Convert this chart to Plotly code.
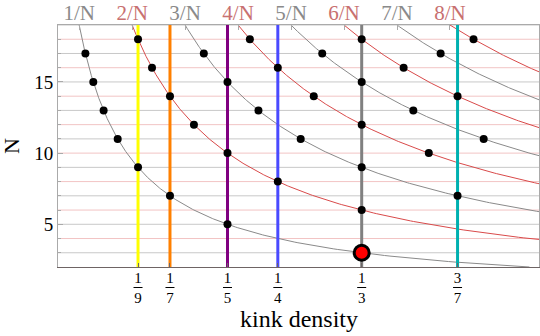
import numpy as np
import plotly.graph_objects as go

# --- data ---
numerators = [1, 2, 3, 4, 5, 6, 7, 8]
top_labels = ["1/N", "2/N", "3/N", "4/N", "5/N", "6/N", "7/N", "8/N"]
levels = list(range(3, 20))  # horizontal rules at every integer N

# vertical marker lines (kink densities)
marks = [1/9, 1/7, 1/5, 1/4, 1/3, 3/7]
mark_num = ["1", "1", "1", "1", "1", "3"]
mark_den = ["9", "7", "5", "4", "3", "7"]
mark_colors = ["#ffff00", "#ff8000", "#800080", "#4a4aff", "#808080", "#00b0b0"]

# black dots: N values on each k/N curve
dot_N = {
    1: [5, 7, 9, 11, 13, 15, 17],
    2: [6, 8, 10, 12, 14, 16, 18],
    3: [7, 9, 11, 13, 15, 17],
    4: [10, 12, 14, 16, 18],
    5: [11, 13, 15, 17],
    6: [14, 16, 18],
    7: [17],
    8: [18],
}
red_k, red_N = 1, 3

GRAY = "#8a8a8a"
RED = "#d94a4a"
LABEL_RED = "#c87070"
FONT = "Liberation Serif"

x_range = [0.0316, 0.5095]
y_range = [2, 19]

fig = go.Figure()

# horizontal rules
for n in levels:
    fig.add_shape(type="line", xref="paper", x0=0, x1=1, yref="y", y0=n, y1=n,
                  line=dict(color="#c8c8c8" if n % 2 else "#f2c4c4", width=1),
                  layer="below")

# k/N curves
Ns = np.linspace(2, 19, 400)
for k in numerators:
    fig.add_trace(go.Scatter(x=k / Ns, y=Ns, mode="lines",
                             line=dict(color=GRAY if k % 2 else RED, width=1),
                             hoverinfo="skip", showlegend=False))

# vertical marker lines
for xv, col in zip(marks, mark_colors):
    fig.add_trace(go.Scatter(x=[xv, xv], y=y_range, mode="lines",
                             line=dict(color=col, width=3),
                             hoverinfo="skip", showlegend=False))

# black dots
dx, dy = [], []
for k, ns in dot_N.items():
    for n in ns:
        dx.append(k / n)
        dy.append(n)
fig.add_trace(go.Scatter(x=dx, y=dy, mode="markers",
                         marker=dict(color="black", size=8),
                         showlegend=False))

# big red dot
fig.add_trace(go.Scatter(x=[red_k / red_N], y=[red_N], mode="markers",
                         marker=dict(color="#ff0000", size=15,
                                     line=dict(color="black", width=3)),
                         showlegend=False))

# invisible trace for the top axis
fig.add_trace(go.Scatter(x=[x_range[0]], y=[y_range[0]], xaxis="x2", mode="markers",
                         marker=dict(opacity=0), hoverinfo="skip", showlegend=False))

# fraction bars under the bottom tick labels
for xv in marks:
    fig.add_shape(type="line", xref="x", xsizemode="pixel", xanchor=xv, x0=-4.5, x1=4.5,
                  yref="paper", ysizemode="pixel", yanchor=0, y0=-20.5, y1=-20.5,
                  line=dict(color="black", width=1))

top_text = [f"<span style='color:{GRAY if k % 2 else LABEL_RED}'>{t}</span>"
            for k, t in zip(numerators, top_labels)]

# axis titles
fig.add_annotation(text="kink density", xref="paper", yref="paper", x=0.5, y=0,
                   yshift=-52, yanchor="middle", showarrow=False,
                   font=dict(size=24, family=FONT, color="black"))
fig.add_annotation(text="N", xref="paper", yref="paper", x=0, y=0.5,
                   xshift=-47, yshift=0, xanchor="center", textangle=-90,
                   showarrow=False, borderpad=0,
                   font=dict(size=22, family=FONT, color="black"))

fig.update_layout(
    template="none",
    width=540, height=336,
    margin=dict(l=58, r=1, t=25, b=69),
    paper_bgcolor="white", plot_bgcolor="white",
    font=dict(family=FONT, color="black"),
    xaxis=dict(range=x_range, tickvals=marks, automargin=False,
               ticktext=[f"{a}<br>{b}" for a, b in zip(mark_num, mark_den)],
               tickfont=dict(size=15), showgrid=False, zeroline=False,
               showline=True, linecolor="#6e6464", linewidth=1,
               ticks="inside", ticklen=4, tickcolor="#6e6464",
               ticklabelstandoff=-3),
    xaxis2=dict(range=x_range, overlaying="x", side="top", automargin=False,
                tickvals=[k / 19 for k in numerators], ticktext=top_text,
                tickfont=dict(size=21), showgrid=False, zeroline=False,
                showline=True, linecolor="#aaaaaa", linewidth=1,
                ticks="inside", ticklen=5, tickcolor="#aaaaaa",
                ticklabelstandoff=-4),
    yaxis=dict(range=y_range, tickvals=[5, 10, 15], tickfont=dict(size=19),
               automargin=False, showgrid=False, zeroline=False,
               showline=True, mirror=True, linecolor="#aaaaaa", linewidth=1,
               ticks="inside", ticklen=5, tickcolor="#aaaaaa",
               minor=dict(dtick=1, ticks="inside", ticklen=3, tickcolor="#aaaaaa")),
)

fig.write_html("out.html", config={"displayModeBar": False},
               post_script="document.body.style.margin='0';")
